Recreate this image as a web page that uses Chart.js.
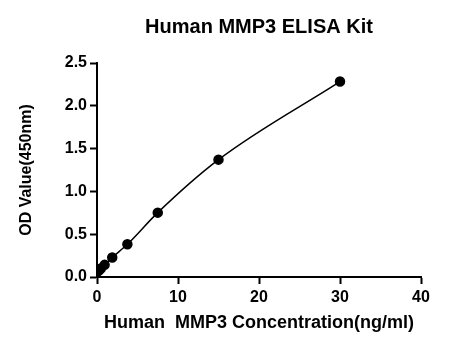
<!DOCTYPE html>
<html>
<head>
<meta charset="utf-8">
<script src="https://cdn.jsdelivr.net/npm/chart.js@4"></script>
<style>
  body { margin: 0; background: #fff; }
</style>
</head>
<body>
<canvas id="mmp3Curve" width="469" height="350"></canvas>
<script>
// standard curve: concentration (ng/ml) vs OD at 450nm
const concentration = [0, 0.23, 0.47, 0.94, 1.88, 3.75, 7.5, 15, 30];
const odValue = [0.058, 0.075, 0.098, 0.142, 0.228, 0.382, 0.752, 1.371, 2.283];
const xTicks = [0, 10, 20, 30, 40];
const yTicks = [0, 0.5, 1.0, 1.5, 2.0, 2.5];

const fontFamily = "'Liberation Sans', Arial, Helvetica, sans-serif";

const points = concentration.map((c, i) => ({ x: c, y: odValue[i] }));

const ctx = document.getElementById("mmp3Curve").getContext("2d");
new Chart(ctx, {
  type: "scatter",
  data: {
    datasets: [
      {
        data: points,
        showLine: true,
        cubicInterpolationMode: "monotone",
        borderColor: "#000",
        borderWidth: 1.5,
        backgroundColor: "#000",
        pointRadius: 4.5,
        pointHoverRadius: 4.5,
      },
    ],
  },
  options: {
    responsive: false,
    animation: false,
    layout: { padding: { left: 0, right: 48, top: 0, bottom: 0 } },
    plugins: {
      legend: { display: false },
      tooltip: { enabled: false },
      title: {
        display: true,
        text: "Human MMP3 ELISA Kit",
        fullSize: false,
        color: "#000",
        font: { family: fontFamily, size: 20, weight: "bold" },
        padding: { top: 15, bottom: 24 },
      },
    },
    scales: {
      x: {
        type: "linear",
        min: xTicks[0],
        max: xTicks[xTicks.length - 1],
        afterBuildTicks: (scale) => {
          scale.ticks = xTicks.map((v) => ({ value: v }));
        },
        afterFit: (scale) => {
          scale.height = 73;
        },
        border: { color: "#000", width: 2 },
        grid: {
          drawOnChartArea: false,
          color: "#000",
          tickLength: 7,
          tickWidth: 2,
        },
        ticks: {
          color: "#000",
          padding: 4,
          maxRotation: 0,
          font: { family: fontFamily, size: 16, weight: "bold" },
        },
        title: {
          display: true,
          text: "Human  MMP3 Concentration(ng/ml)",
          color: "#000",
          font: { family: fontFamily, size: 18, weight: "bold" },
          padding: { top: 4, bottom: 16 },
        },
      },
      y: {
        min: yTicks[0],
        max: yTicks[yTicks.length - 1],
        afterBuildTicks: (scale) => {
          scale.ticks = yTicks.map((v) => ({ value: v }));
        },
        afterFit: (scale) => {
          scale.width = 97;
        },
        border: { color: "#000", width: 2 },
        grid: {
          drawOnChartArea: false,
          color: "#000",
          tickLength: 7,
          tickWidth: 2,
        },
        ticks: {
          color: "#000",
          padding: 3,
          font: { family: fontFamily, size: 16, weight: "bold" },
          callback: (v) => Number(v).toFixed(1),
        },
        title: {
          display: true,
          text: "OD Value(450nm)",
          color: "#000",
          font: { family: fontFamily, size: 16, weight: "bold" },
          padding: { top: 17, bottom: 4 },
        },
      },
    },
  },
});
</script>
</body>
</html>
